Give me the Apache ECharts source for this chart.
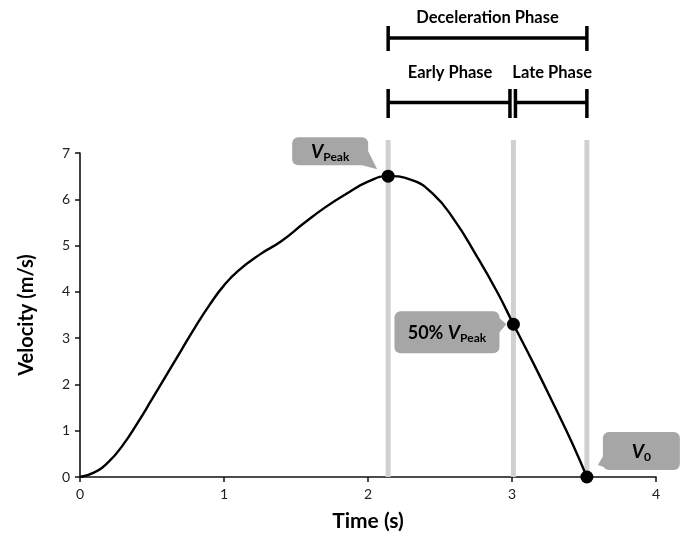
<!DOCTYPE html>
<html>
<head>
<meta charset="utf-8">
<script src="https://cdn.jsdelivr.net/npm/echarts@6/dist/echarts.min.js"></script>
<style>html,body{margin:0;padding:0;background:#fff;}#c{width:691px;height:538px;}</style>
</head>
<body>
<div id="c"></div>
<script>
var timeS = [0, 0.1, 0.2, 0.3, 0.4, 0.5, 0.6, 0.7, 0.8, 0.9, 1.0, 1.1, 1.25, 1.4, 1.55, 1.7, 1.85, 2.0, 2.14, 2.3, 2.45, 2.6, 2.75, 2.9, 3.01, 3.15, 3.3, 3.42, 3.52];
var velocity = [0, 0.1, 0.33, 0.7, 1.17, 1.68, 2.2, 2.72, 3.24, 3.72, 4.14, 4.46, 4.81, 5.1, 5.47, 5.82, 6.12, 6.38, 6.5, 6.42, 6.12, 5.55, 4.8, 3.98, 3.3, 2.45, 1.5, 0.72, 0];
var keyTimes = [2.14, 3.01, 3.52];
var keyVel = [6.5, 3.3, 0];
var xTicks = [0, 1, 2, 3, 4];
var yTicks = [0, 1, 2, 3, 4, 5, 6, 7];

var FONT = 'Lato, "Open Sans", sans-serif';
var chart = echarts.init(document.getElementById('c'));
var lineData = timeS.map(function (t, i) { return [t, velocity[i]]; });
var keyData = keyTimes.map(function (t, i) { return [t, keyVel[i]]; });

chart.setOption({
  animation: false,
  grid: { left: 80, right: 35, top: 153, bottom: 61 },
  xAxis: {
    type: 'value', min: xTicks[0], max: xTicks[xTicks.length - 1], interval: 1,
    name: 'Time (s)', nameLocation: 'middle', nameGap: 34,
    nameTextStyle: { fontFamily: FONT, fontWeight: 'bold', fontSize: 21, color: '#000' },
    axisLine: { lineStyle: { color: '#111', width: 1.6 } },
    axisTick: { show: true, length: 5, lineStyle: { color: '#111', width: 1.5 } },
    axisLabel: { fontFamily: FONT, fontSize: 14, color: '#222', margin: 10 },
    splitLine: { show: false }
  },
  yAxis: {
    type: 'value', min: yTicks[0], max: yTicks[yTicks.length - 1], interval: 1,
    name: 'Velocity (m/s)', nameLocation: 'middle', nameGap: 43, nameRotate: 90,
    nameTextStyle: { fontFamily: FONT, fontWeight: 'bold', fontSize: 20, color: '#000' },
    axisLine: { show: true, lineStyle: { color: '#111', width: 1.6 } },
    axisTick: { show: true, length: 5, lineStyle: { color: '#111', width: 1.5 } },
    axisLabel: { fontFamily: FONT, fontSize: 14, color: '#222', margin: 10 },
    splitLine: { show: false }
  },
  series: [
    {
      type: 'line', data: lineData, smooth: 0.5, showSymbol: false, z: 3,
      lineStyle: { color: '#000', width: 2.4 }
    },
    {
      type: 'scatter', data: keyData, symbolSize: 13, z: 5,
      itemStyle: { color: '#000', opacity: 1 }
    }
  ]
});

function px(x, y) { return chart.convertToPixel({ gridIndex: 0 }, [x, y]); }

var g = [];
var yTopPx = 140;
var axisY = px(0, 0)[1];
keyTimes.forEach(function (t) {
  var p = px(t, 0);
  g.push({ type: 'line', shape: { x1: p[0], y1: yTopPx, x2: p[0], y2: axisY }, style: { stroke: '#d0d0d0', lineWidth: 5 }, z: 1 });
});
var xA = px(keyTimes[0], 0)[0], xB = px(keyTimes[1], 0)[0], xC = px(keyTimes[2], 0)[0];
var blk = { stroke: '#000', lineWidth: 3.5 };
function hl(x1, x2, y) { g.push({ type: 'line', shape: { x1: x1, y1: y, x2: x2, y2: y }, style: blk, z: 10 }); }
function vl(x, y1, y2) { g.push({ type: 'line', shape: { x1: x, y1: y1, x2: x, y2: y2 }, style: blk, z: 10 }); }
hl(xA, xC, 38); vl(xA, 26, 51); vl(xC, 26, 51);
var xB1 = xB - 3.5, xB2 = xB + 2;
hl(xA, xB1, 102.5); vl(xA, 89, 118); vl(xB1, 89, 118);
hl(xB2, xC, 102.5); vl(xB2, 89, 118); vl(xC, 89, 118);
function txt(x, y, s) {
  g.push({ type: 'text', x: x, y: y, z: 10, style: { text: s, fontFamily: FONT, fontWeight: 'bold', fontSize: 16.5, fill: '#000', align: 'center', verticalAlign: 'middle' } });
}
txt((xA + xC) / 2, 18, 'Deceleration Phase');
txt((xA + xB1) / 2 + 1, 73, 'Early Phase');
txt((xB2 + xC) / 2 + 1, 73, 'Late Phase');

var rich = {
  v: { fontFamily: FONT, fontWeight: 'bold', fontStyle: 'italic', fontSize: 19, lineHeight: 22, fill: '#000', verticalAlign: 'middle' },
  n: { fontFamily: FONT, fontWeight: 'bold', fontSize: 18, lineHeight: 22, fill: '#000', verticalAlign: 'middle' },
  s: { fontFamily: FONT, fontWeight: 'bold', fontSize: 12, lineHeight: 13, fill: '#000', verticalAlign: 'bottom' }
};
var bubble = '#a6a6a6';
function callout(bx, by, bw, bh, tail, text) {
  g.push({ type: 'rect', shape: { x: bx, y: by, width: bw, height: bh, r: 6 }, style: { fill: bubble }, z: 6 });
  g.push({ type: 'polygon', shape: { points: tail }, style: { fill: bubble }, z: 6 });
  g.push({ type: 'text', x: bx + bw / 2, y: by + bh / 2 + 1, z: 7, style: { text: text, rich: rich, align: 'center', verticalAlign: 'middle' } });
}
var pP = px(keyTimes[0], keyVel[0]);
callout(pP[0] - 96, pP[1] - 39, 76, 28, [[pP[0] - 26, pP[1] - 11], [pP[0] - 20, pP[1] - 25], [pP[0] - 11, pP[1] - 7]], '{v|V}{s|Peak}');
var pH = px(keyTimes[1], keyVel[1]);
callout(pH[0] - 119, pH[1] - 13, 105, 42, [[pH[0] - 15, pH[1] - 7], [pH[0] - 7, pH[1]], [pH[0] - 15, pH[1] + 9]], '{n|50% }{v|V}{s|Peak}');
var p0 = px(keyTimes[2], keyVel[2]);
callout(p0[0] + 16, p0[1] - 45, 77, 38, [[p0[0] + 18, p0[1] - 24], [p0[0] + 11, p0[1] - 12], [p0[0] + 26, p0[1] - 7]], '{v|V}{s|0}');

chart.setOption({ graphic: g });
</script>
</body>
</html>
